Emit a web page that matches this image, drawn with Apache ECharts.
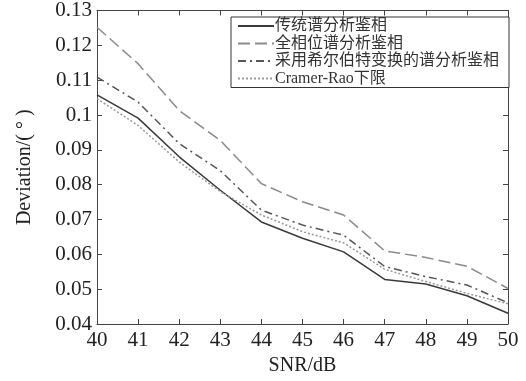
<!DOCTYPE html>
<html>
<head>
<meta charset="utf-8">
<script src="https://cdn.jsdelivr.net/npm/echarts@6/dist/echarts.min.js"></script>
<style>
  html, body { margin: 0; padding: 0; background: #fff; }
  #chart { width: 526px; height: 381px; }
</style>
</head>
<body>
<div id="chart"></div>
<script>
// SNR 横轴
const snr = [40, 41, 42, 43, 44, 45, 46, 47, 48, 49, 50];

// 各方法的测向偏差
const traditional = [0.1058, 0.0991, 0.0880, 0.0784, 0.0693, 0.0646, 0.0607, 0.0528, 0.0515, 0.0481, 0.0431];
const allPhase = [0.1252, 0.1147, 0.1013, 0.0927, 0.0803, 0.0751, 0.0713, 0.0610, 0.0591, 0.0566, 0.0502];
const hilbert = [0.1109, 0.1037, 0.0918, 0.0840, 0.0727, 0.0684, 0.0655, 0.0565, 0.0536, 0.0512, 0.0461];
const crb = [0.1047, 0.0970, 0.0865, 0.0780, 0.0713, 0.0665, 0.0633, 0.0557, 0.0522, 0.0488, 0.0458];

const names = ['传统谱分析鉴相', '全相位谱分析鉴相', '采用希尔伯特变换的谱分析鉴相', 'Cramer-Rao下限'];

const FONT = '"Liberation Serif", "Noto Sans CJK SC", serif';
const AXIS_COLOR = '#444';

const chart = echarts.init(document.getElementById('chart'), null, { renderer: 'canvas' });

const pair = (ys) => snr.map((x, i) => [x, ys[i]]);

const mkLine = (name, data, color, type, width) => ({
  name,
  type: 'line',
  data: pair(data),
  symbol: 'none',
  lineStyle: { color, type, width },
  itemStyle: { color },
  animation: false,
});

const baseAxis = {
  axisLine: { show: true, lineStyle: { color: AXIS_COLOR, width: 1 } },
  axisTick: { show: true, inside: true, length: 5, lineStyle: { color: AXIS_COLOR } },
  splitLine: { show: false },
};

const option = {
  grid: { left: 97, right: 18, top: 10, bottom: 57 },
  legend: {
    left: 231,
    top: 17,
    orient: 'vertical',
    backgroundColor: '#fff',
    borderColor: '#333',
    borderWidth: 1,
    padding: [1, 10, 1, 6],
    itemWidth: 36,
    itemHeight: 10,
    itemGap: 1.5,
    itemStyle: { opacity: 0 },
    textStyle: { fontFamily: FONT, fontSize: 16, color: '#333', padding: [0, 0, 0, -4] },
    data: names,
  },
  xAxis: [
    {
      ...baseAxis,
      type: 'value',
      min: 40, max: 50, interval: 1,
      name: 'SNR/dB',
      nameLocation: 'middle',
      nameGap: 32,
      nameTextStyle: { fontFamily: FONT, fontSize: 20, color: '#222' },
      axisLabel: { fontFamily: FONT, fontSize: 21, color: '#222', margin: 6 },
    },
    {
      ...baseAxis,
      type: 'value',
      position: 'top',
      min: 40, max: 50, interval: 1,
      axisLabel: { show: false },
    },
  ],
  yAxis: [
    {
      ...baseAxis,
      type: 'value',
      min: 0.04, max: 0.13, interval: 0.01,
      name: 'Deviation/( ° )',
      nameLocation: 'middle',
      nameGap: 62,
      nameTextStyle: { fontFamily: FONT, fontSize: 20, color: '#222' },
      axisLabel: {
        fontFamily: FONT, fontSize: 21, color: '#222', margin: 5,
        formatter: (v) => String(Math.round(v * 100) / 100),
      },
    },
    {
      ...baseAxis,
      type: 'value',
      position: 'right',
      min: 0.04, max: 0.13, interval: 0.01,
      axisLabel: { show: false },
    },
  ],
  series: [
    mkLine(names[0], traditional, '#3a3a3a', 'solid', 1.5),
    mkLine(names[1], allPhase, '#8a8a8a', [12, 5], 1.5),
    mkLine(names[2], hilbert, '#555', [8, 4, 2, 4], 1.5),
    mkLine(names[3], crb, '#999', [2, 2], 1.5),
  ],
};

chart.setOption(option);
</script>
</body>
</html>
